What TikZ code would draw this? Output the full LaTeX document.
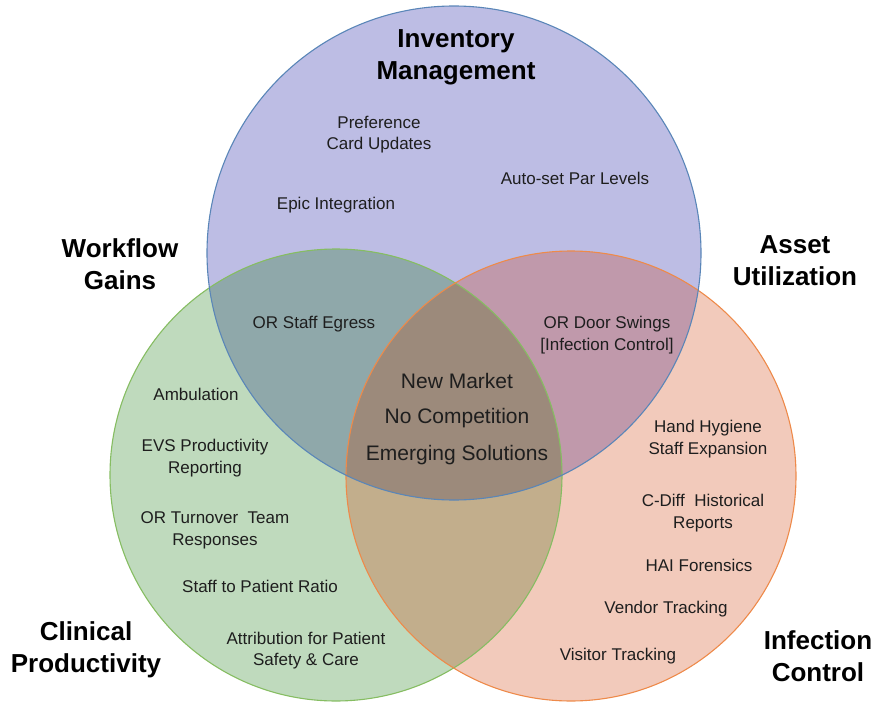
\documentclass[tikz,border=0pt]{standalone}
\usepackage{fontspec}
\setmainfont{Liberation Sans}
\definecolor{cP}{HTML}{BDBDE4}
\definecolor{cG}{HTML}{BFDABD}
\definecolor{cO}{HTML}{F2CABB}
\definecolor{cPG}{HTML}{8FA8AA}
\definecolor{cPO}{HTML}{C099AB}
\definecolor{cGO}{HTML}{C2AE8C}
\definecolor{cPGO}{HTML}{9C8A7B}
\definecolor{lP}{HTML}{5A86B8}
\definecolor{lG}{HTML}{86BD62}
\definecolor{lO}{HTML}{EE8A4A}
\definecolor{txt}{HTML}{1E1E1E}
\begin{document}
\begin{tikzpicture}[x=1pt,y=-1pt,
  item/.style={font=\fontsize{17}{21.5}\selectfont, align=center, inner sep=0pt, text=txt},
  title/.style={font=\fontsize{26}{32}\selectfont\bfseries, align=center, inner sep=0pt, text=black},
  core/.style={font=\fontsize{21}{26}\selectfont, inner sep=0pt, text=txt},
  ring/.style={line width=1.1pt}]
\useasboundingbox (0,0) rectangle (887,704);
\def\circP{(454,253) circle[radius=247pt]}
\def\circG{(336,475) circle[radius=226pt]}
\def\circO{(571,476) circle[radius=225pt]}
% region fills
\fill[cP] \circP;
\fill[cG] \circG;
\fill[cO] \circO;
\begin{scope}
  \clip \circP;
  \fill[cPG] \circG;
  \fill[cPO] \circO;
\end{scope}
\begin{scope}
  \clip \circG;
  \fill[cGO] \circO;
\end{scope}
\begin{scope}
  \clip \circP;
  \clip \circG;
  \fill[cPGO] \circO;
\end{scope}
% outlines
\draw[ring, lG] \circG;
\draw[ring, lO] \circO;
\draw[ring, lP] \circP;
% titles
\node[title] (inv) at (456,57) {Inventory\\Management};
\node[title] (wf) at (120,264) {Workflow\\Gains};
\node[title] (au) at (795,261) {Asset\\Utilization};
\node[title] (cp) at (86,650) {Clinical\\Productivity};
\node[title] (ic) at (818,656) {Infection\\Control};
% purple items
\node[item] (pref) at (379,134.5) {Preference\\Card Updates};
\node[item] (auto) at (575,178) {Auto-set Par Levels};
\node[item] (epic) at (336,205) {Epic Integration};
% overlaps
\node[item] (egress) at (314,324) {OR Staff Egress};
\node[item] (door) at (607,335) {OR Door Swings\\{[}Infection Control{]}};
% center
\node[core] (nm) at (457,381) {New Market};
\node[core] (nc) at (457,418) {No Competition};
\node[core] (es) at (457,455) {Emerging Solutions};
% green items
\node[item] (amb) at (196,394) {Ambulation};
\node[item] (evs) at (205,458) {EVS Productivity\\Reporting};
\node[item] (ort) at (215,530.5) {OR Turnover~~Team\\Responses};
\node[item] (stp) at (260,586) {Staff to Patient Ratio};
\node[item] (attr) at (306,650.5) {Attribution for Patient\\Safety \& Care};
% orange items
\node[item] (hh) at (708,439) {Hand Hygiene\\Staff Expansion};
\node[item] (cdiff) at (703,513) {C-Diff~ Historical\\Reports};
\node[item] (hai) at (699,565) {HAI Forensics};
\node[item] (vend) at (666,609) {Vendor Tracking};
\node[item] (vis) at (618,656) {Visitor Tracking};
\end{tikzpicture}
\end{document}
